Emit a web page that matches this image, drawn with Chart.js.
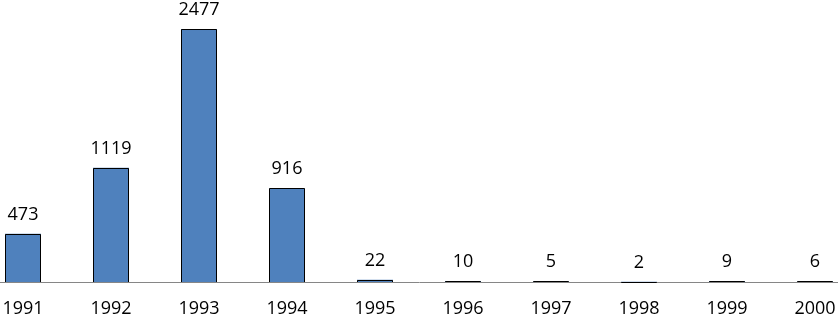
<!DOCTYPE html>
<html lang="en">
<head>
    <meta charset="UTF-8">
    <script src="https://cdn.jsdelivr.net/npm/chart.js@4.4.1/dist/chart.umd.min.js"></script>
    <style>
        html, body {
            margin: 0;
            padding: 0;
            background: #fff;
            overflow: hidden;
        }

        .chart-wrap {
            position: absolute;
            left: -21px;
            top: 0;
            width: 880px;
            height: 315px;
        }
    </style>
    <title>Yearly counts</title>
</head>
<body>
    <div class="chart-wrap">
        <canvas id="chartCanvas"></canvas>
    </div>

    <script>
        const years = ['1991', '1992', '1993', '1994', '1995', '1996', '1997', '1998', '1999', '2000'];
        const counts = [473, 1119, 2477, 916, 22, 10, 5, 2, 9, 6];

        const fontFamily = '"Open Sans", "Liberation Sans", sans-serif';

        // crisp black outline + the value above each bar
        const valueLabels = {
            id: 'valueLabels',
            afterDatasetsDraw(chart) {
                const ctx = chart.ctx;
                const meta = chart.getDatasetMeta(0);
                ctx.save();
                ctx.strokeStyle = '#000';
                ctx.lineWidth = 1;
                meta.data.forEach((bar) => {
                    const left = Math.round(bar.x - bar.width / 2);
                    const right = Math.round(bar.x + bar.width / 2) - 1;
                    const top = Math.round(bar.y);
                    const base = Math.round(bar.base);
                    ctx.beginPath();
                    ctx.moveTo(left + 0.5, base);
                    ctx.lineTo(left + 0.5, top + 0.5);
                    ctx.lineTo(right + 0.5, top + 0.5);
                    ctx.lineTo(right + 0.5, base);
                    ctx.stroke();
                });

                ctx.font = '18px ' + fontFamily;
                ctx.fillStyle = '#000';
                ctx.textAlign = 'center';
                ctx.textBaseline = 'alphabetic';
                meta.data.forEach((bar, i) => {
                    ctx.fillText(String(counts[i]), bar.x, bar.y - 14);
                });
                ctx.restore();
            }
        };

        const ctx = document.getElementById('chartCanvas').getContext('2d');
        new Chart(ctx, {
            type: 'bar',
            data: {
                labels: years,
                datasets: [{
                    data: counts,
                    backgroundColor: '#4F81BD',
                    borderWidth: 0,
                    categoryPercentage: 36 / 88,
                    barPercentage: 1.0
                }]
            },
            options: {
                responsive: true,
                maintainAspectRatio: false,
                animation: false,
                layout: { padding: 0 },
                plugins: {
                    legend: { display: false },
                    tooltip: { enabled: false }
                },
                scales: {
                    x: {
                        grid: { display: false, drawTicks: false },
                        border: { display: true, color: '#868686', width: 1 },
                        ticks: {
                            color: '#000',
                            padding: 16,
                            font: { size: 18, family: fontFamily }
                        },
                        afterFit(scale) {
                            scale.height = 33;
                        }
                    },
                    y: {
                        display: false,
                        min: 0,
                        max: 2761
                    }
                }
            },
            plugins: [valueLabels]
        });
    </script>
</body>
</html>
